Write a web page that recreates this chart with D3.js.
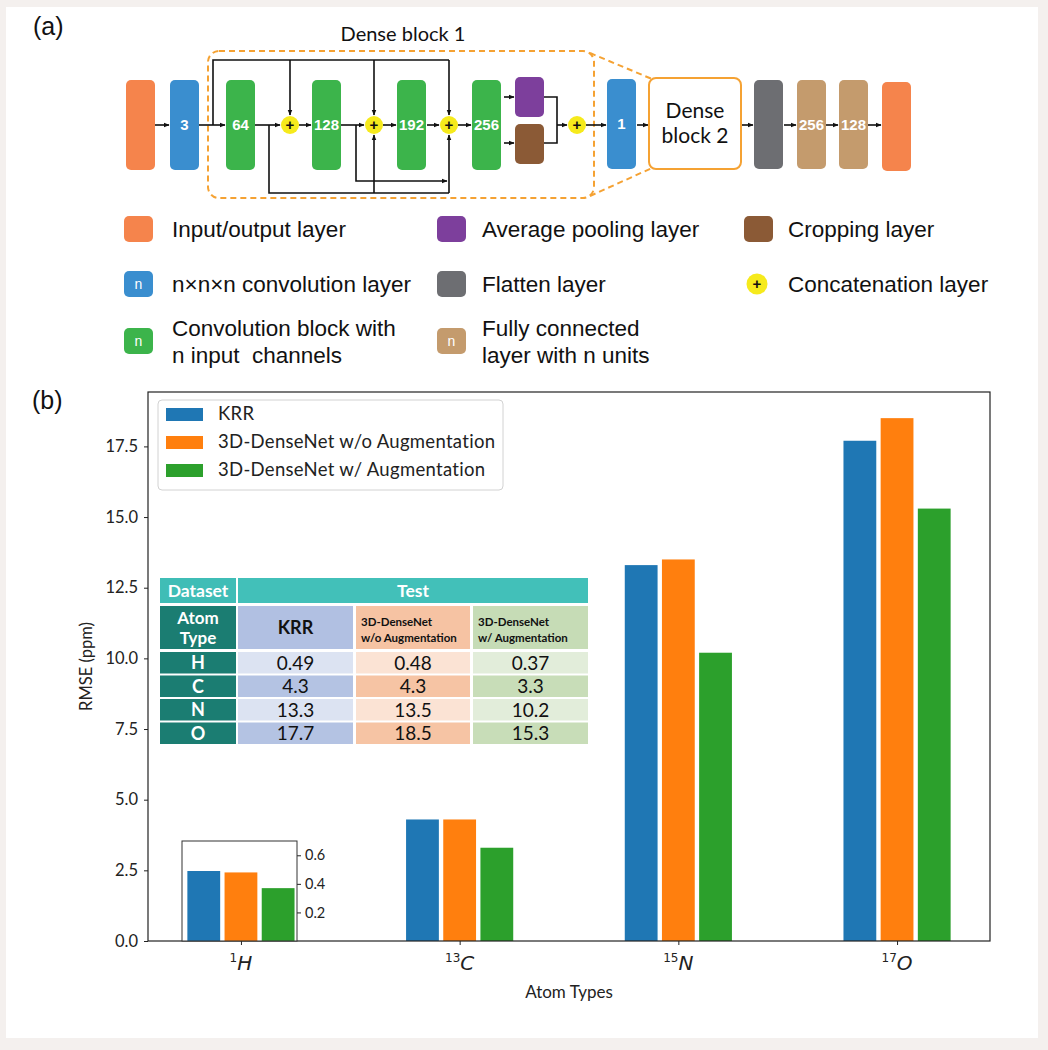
<!DOCTYPE html>
<html><head><meta charset="utf-8">
<script src="https://cdn.jsdelivr.net/npm/d3@7"></script>
<style>
body{margin:0;background:#f4f0ee;}
svg{display:block;}
.pre{white-space:pre;}
</style>
</head><body>
<svg id="c" width="1048" height="1050"></svg>
<script>
// ---------- chart data (b) ----------
const categories = ["H", "C", "N", "O"];
const massNumbers = ["1", "13", "15", "17"];
const seriesNames = ["KRR", "3D-DenseNet w/o Augmentation", "3D-DenseNet w/ Augmentation"];
const krr = [0.49, 4.3, 13.3, 17.7];
const denseNoAug = [0.48, 4.3, 13.5, 18.5];
const denseAug = [0.37, 3.3, 10.2, 15.3];
const yTicks = [0, 2.5, 5, 7.5, 10, 12.5, 15, 17.5];
const insetTicks = [0.2, 0.4, 0.6];
const tableHeaders = ["KRR", "3D-DenseNet\nw/o Augmentation", "3D-DenseNet\nw/ Augmentation"];
const seriesColors = ["#1f77b4", "#ff7f0e", "#2ca02c"];

// ---------- diagram (a) ----------
const layerColors = {io:"#f5844c", conv:"#3a8ecf", block:"#3cb44b", pool:"#7d3f9c", crop:"#8b5a36", flat:"#6d6e72", fc:"#c49b6d", concat:"#f6ea1c"};
const layers = [
  {type:"io", x:126, y:80, h:90, label:""},
  {type:"conv", x:170, y:80, h:90, label:"3"},
  {type:"block", x:226, y:80, h:90, label:"64"},
  {type:"block", x:312, y:80, h:90, label:"128"},
  {type:"block", x:397, y:80, h:90, label:"192"},
  {type:"block", x:472, y:80, h:90, label:"256"},
  {type:"pool", x:515, y:77, h:40, label:""},
  {type:"crop", x:515, y:124, h:40, label:""},
  {type:"conv", x:607, y:79, h:90, label:"1"},
  {type:"flat", x:754, y:80, h:89, label:""},
  {type:"fc", x:797, y:80, h:89, label:"256"},
  {type:"fc", x:839, y:80, h:89, label:"128"},
  {type:"io", x:882, y:82, h:89, label:""}
];
const concats = [290, 374, 449, 577];
const arrows = [
  [155,125,169,125],[199,125,225,125],[255,125,280,125],[299,125,311,125],
  [341,125,364,125],[383,125,396,125],[427,125,439,125],[458,125,471,125],
  [504,97,514,97],[504,143,514,143],[557,125,567,125],[586,125,606,125],
  [637,125,648,125],[742,125,753,125],[784,125,796,125],[826,125,838,125],[868,125,881,125],
  [290,60,290,115],[374,60,374,115],[449,60,449,115],
  [374,193,374,135],[449,193,449,135]
];
const polylines = [
  {pts:[[213,125],[213,60],[449,60]], arrow:false},
  {pts:[[269,125],[269,193],[449,193]], arrow:false},
  {pts:[[356,125],[356,181],[447,181]], arrow:true},
  {pts:[[544,97],[557,97],[557,143],[544,143]], arrow:false}
];
const legendItems = [
  {type:"io", col:0, row:0, text:["Input/output layer"], n:false},
  {type:"pool", col:1, row:0, text:["Average pooling layer"], n:false},
  {type:"crop", col:2, row:0, text:["Cropping layer"], n:false},
  {type:"conv", col:0, row:1, text:["n×n×n convolution layer"], n:true},
  {type:"flat", col:1, row:1, text:["Flatten layer"], n:false},
  {type:"concat", col:2, row:1, text:["Concatenation layer"], n:false},
  {type:"block", col:0, row:2, text:["Convolution block with","n input  channels"], n:true},
  {type:"fc", col:1, row:2, text:["Fully connected","layer with n units"], n:true}
];

const svg = d3.select("#c");
svg.append("rect").attr("x",6).attr("y",7).attr("width",1032).attr("height",1031).attr("fill","#ffffff");

const defs = svg.append("defs");
defs.append("marker").attr("id","ah").attr("viewBox","0 0 10 10").attr("refX",9).attr("refY",5)
  .attr("markerWidth",6).attr("markerHeight",6).attr("orient","auto-start-reverse").attr("markerUnits","userSpaceOnUse")
  .append("path").attr("d","M0,1 L10,5 L0,9 z").attr("fill","#111");

const A = svg.append("g");
A.append("text").attr("x",33).attr("y",35).attr("font-family","Liberation Sans, Arial").attr("font-size",25).attr("fill","#111").text("(a)");
A.append("text").attr("x",403).attr("y",41).attr("text-anchor","middle").attr("font-family","Lato").attr("font-size",20).attr("fill","#111").text("Dense block 1");

// dashed dense block outline and trapezoid
const dash = A.append("g").attr("fill","none").attr("stroke","#f5a233").attr("stroke-width",2).attr("stroke-dasharray","6,4");
dash.append("rect").attr("x",208).attr("y",51).attr("width",386).attr("height",147).attr("rx",11);
dash.append("line").attr("x1",590).attr("y1",53).attr("x2",652).attr("y2",79);
dash.append("line").attr("x1",590).attr("y1",196).attr("x2",652).attr("y2",168);

// lines
const L = A.append("g").attr("stroke","#111").attr("stroke-width",1.6).attr("fill","none");
polylines.forEach(p=>{
  const pth = L.append("path").attr("d", d3.line()(p.pts));
  if(p.arrow) pth.attr("marker-end","url(#ah)");
});
arrows.forEach(a=>{
  L.append("line").attr("x1",a[0]).attr("y1",a[1]).attr("x2",a[2]).attr("y2",a[3]).attr("marker-end","url(#ah)");
});

// layer boxes
const lg = A.selectAll("g.layer").data(layers).join("g").attr("class","layer");
lg.append("rect").attr("x",d=>d.x).attr("y",d=>d.y).attr("width",29).attr("height",d=>d.h).attr("rx",5)
  .attr("fill",d=>layerColors[d.type]);
lg.append("text").attr("x",d=>d.x+14.5).attr("y",d=>d.y+d.h/2+5).attr("text-anchor","middle")
  .attr("font-family","Liberation Sans Narrow, Liberation Sans, Arial").attr("font-weight","bold").attr("font-size",15)
  .attr("fill","#fff").text(d=>d.label);

// dense block 2
A.append("rect").attr("x",649).attr("y",78).attr("width",92).attr("height",91).attr("rx",7)
  .attr("fill","#fff").attr("stroke","#f5a233").attr("stroke-width",2);
A.append("text").attr("x",695).attr("y",118).attr("text-anchor","middle").attr("font-family","Lato").attr("font-size",21).attr("fill","#111").text("Dense");
A.append("text").attr("x",695).attr("y",143).attr("text-anchor","middle").attr("font-family","Lato").attr("font-size",21).attr("fill","#111").text("block 2");

// concatenation circles
const cg = A.selectAll("g.cc").data(concats).join("g").attr("class","cc");
cg.append("circle").attr("cx",d=>d).attr("cy",125).attr("r",9).attr("fill",layerColors.concat);
cg.append("text").attr("x",d=>d).attr("y",130).attr("text-anchor","middle").attr("font-family","Liberation Sans").attr("font-weight","bold").attr("font-size",15).attr("fill","#111").text("+");

// legend (a)
const colSw = [124, 437, 744], colTx = [172, 482, 788], rowY = [229, 284, 341];
const li = A.selectAll("g.li").data(legendItems).join("g").attr("class","li");
li.each(function(d){
  const g = d3.select(this);
  const cy = rowY[d.row];
  if(d.type==="concat"){
    g.append("circle").attr("cx",colSw[d.col]+13).attr("cy",cy).attr("r",10.5).attr("fill",layerColors.concat);
    g.append("text").attr("x",colSw[d.col]+13).attr("y",cy+5).attr("text-anchor","middle").attr("font-family","Liberation Sans").attr("font-weight","bold").attr("font-size",15).attr("fill","#111").text("+");
  } else {
    g.append("rect").attr("x",colSw[d.col]).attr("y",cy-13).attr("width",29).attr("height",26).attr("rx",5).attr("fill",layerColors[d.type]);
    if(d.n) g.append("text").attr("x",colSw[d.col]+14.5).attr("y",cy+5).attr("text-anchor","middle").attr("font-family","Liberation Sans").attr("font-size",14).attr("fill","#fff").text("n");
  }
  const n = d.text.length;
  d.text.forEach((t,i)=>{
    g.append("text").attr("class","pre").attr("x",colTx[d.col]).attr("y",cy + (i-(n-1)/2)*27 + 8)
      .attr("font-family","Liberation Sans, Arial").attr("font-size",22.5).attr("fill","#111").text(t);
  });
});

// ---------- (b) ----------
const B = svg.append("g");
B.append("text").attr("x",32).attr("y",409).attr("font-family","Liberation Sans, Arial").attr("font-size",25).attr("fill","#111").text("(b)");

const series = [krr, denseNoAug, denseAug];
const ymax = d3.max(series.flat()) * 1.05;
const y = d3.scaleLinear().domain([0, ymax]).range([941, 392]);
const x = d3.scaleLinear().domain([-0.425, categories.length - 1 + 0.425]).range([148, 990]);
const barW = 0.15, step = 0.17;

const plot = B.append("g");
plot.append("rect").attr("x",x.range()[0]).attr("y",y.range()[1]).attr("width",x.range()[1]-x.range()[0]).attr("height",y.range()[0]-y.range()[1]).attr("fill","#fff");

series.forEach((vals,si)=>{
  plot.selectAll(null).data(vals).join("rect")
    .attr("x",(v,i)=>x(i + (si-1)*step - barW/2))
    .attr("width",x(barW)-x(0))
    .attr("y",v=>y(v)).attr("height",v=>y(0)-y(v))
    .attr("fill",seriesColors[si]);
});

// axes
const yAxis = d3.axisLeft(y).tickValues(yTicks).tickFormat(d3.format(".1f")).tickSize(4).tickPadding(6);
const ya = plot.append("g").attr("transform",`translate(${x.range()[0]},0)`).call(yAxis);
const xAxis = d3.axisBottom(x).tickValues(d3.range(categories.length)).tickFormat("").tickSize(4);
const xa = plot.append("g").attr("transform",`translate(0,${y(0)})`).call(xAxis);
[ya,xa].forEach(a=>{a.select(".domain").remove(); a.selectAll("line").attr("stroke","#222"); a.selectAll("text").attr("font-family","Lato").attr("font-size",16.5).attr("fill","#222");});
// frame
plot.append("rect").attr("x",x.range()[0]).attr("y",y.range()[1]).attr("width",x.range()[1]-x.range()[0]).attr("height",y.range()[0]-y.range()[1])
  .attr("fill","none").attr("stroke","#222").attr("stroke-width",1.2);

// x tick labels
categories.forEach((c,i)=>{
  const t = plot.append("text").attr("x",x(i)).attr("y",970).attr("text-anchor","middle").attr("font-family","DejaVu Sans").attr("fill","#222");
  t.append("tspan").attr("font-size",12).attr("dy",-8).text(massNumbers[i]);
  t.append("tspan").attr("font-size",20).attr("font-style","italic").attr("dy",8).text(c);
});
plot.append("text").attr("x",(x.range()[0]+x.range()[1])/2).attr("y",998).attr("text-anchor","middle").attr("font-family","Lato").attr("font-size",17).attr("fill","#222").text("Atom Types");
plot.append("text").attr("transform",`translate(92,${(y.range()[0]+y.range()[1])/2}) rotate(-90)`).attr("text-anchor","middle").attr("font-family","Lato").attr("font-size",16.5).attr("fill","#222").text("RMSE (ppm)");

// legend (b)
const lgB = plot.append("g");
lgB.append("rect").attr("x",158).attr("y",400).attr("width",345).attr("height",90).attr("rx",4).attr("fill","#fff").attr("fill-opacity",0.9).attr("stroke","#d2d2d2");
seriesNames.forEach((s,i)=>{
  lgB.append("rect").attr("x",166).attr("y",408+i*28).attr("width",37).attr("height",13).attr("fill",seriesColors[i]);
  lgB.append("text").attr("x",218).attr("y",420+i*28).attr("font-family","Lato").attr("font-size",18.5).attr("letter-spacing",0.3).attr("fill","#222").text(s);
});

// inset for H
const iy = d3.scaleLinear().domain([0,0.7]).range([941,841]);
const ix0 = 182, ix1 = 297;
const inset = plot.append("g");
inset.append("rect").attr("x",ix0).attr("y",iy(0.7)).attr("width",ix1-ix0).attr("height",iy(0)-iy(0.7)).attr("fill","#fff");
series.forEach((vals,si)=>{
  inset.append("rect").attr("x",x(0 + (si-1)*step - barW/2)).attr("width",x(barW)-x(0))
    .attr("y",iy(vals[0])).attr("height",iy(0)-iy(vals[0])).attr("fill",seriesColors[si]);
});
const ia = inset.append("g").attr("transform",`translate(${ix1},0)`).call(d3.axisRight(iy).tickValues(insetTicks).tickFormat(d3.format(".1f")).tickSize(4).tickPadding(4));
ia.select(".domain").remove(); ia.selectAll("line").attr("stroke","#222"); ia.selectAll("text").attr("font-family","Lato").attr("font-size",14.5).attr("fill","#222");
inset.append("rect").attr("x",ix0).attr("y",iy(0.7)).attr("width",ix1-ix0).attr("height",iy(0)-iy(0.7)).attr("fill","none").attr("stroke","#333").attr("stroke-width",1);

// table
const T = plot.append("g");
const tX = [160, 238, 356, 473], tW = [76, 115, 114, 115];
const teal = "#1b7d72";
T.append("rect").attr("x",153).attr("y",571).attr("width",442).attr("height",181).attr("fill","#fff");
T.append("rect").attr("x",tX[0]).attr("y",578).attr("width",tW[0]).attr("height",25).attr("fill","#3fbdb6");
T.append("rect").attr("x",tX[1]).attr("y",578).attr("width",588-tX[1]).attr("height",25).attr("fill","#42c0b9");
T.append("text").attr("x",tX[0]+tW[0]/2).attr("y",597).attr("text-anchor","middle").attr("font-family","Lato").attr("font-weight","bold").attr("font-size",17.5).attr("fill","#fff").text("Dataset");
T.append("text").attr("x",(tX[1]+588)/2).attr("y",597).attr("text-anchor","middle").attr("font-family","Lato").attr("font-weight","bold").attr("font-size",17.5).attr("fill","#fff").text("Test");
const headFill = ["#b1c0e2","#f6c3a3","#c6dcb6"];
const darkFill = ["#b4c3e3","#f6c4a4","#c8ddb8"];
const lightFill = ["#dce3f2","#fbe3d4","#e2edda"];
T.append("rect").attr("x",tX[0]).attr("y",606).attr("width",tW[0]).attr("height",43).attr("fill",teal);
T.append("text").attr("x",tX[0]+tW[0]/2).attr("y",624).attr("text-anchor","middle").attr("font-family","Lato").attr("font-weight","bold").attr("font-size",17).attr("fill","#fff").text("Atom");
T.append("text").attr("x",tX[0]+tW[0]/2).attr("y",644).attr("text-anchor","middle").attr("font-family","Lato").attr("font-weight","bold").attr("font-size",17).attr("fill","#fff").text("Type");
tableHeaders.forEach((h,j)=>{
  T.append("rect").attr("x",tX[j+1]).attr("y",606).attr("width",tW[j+1]).attr("height",43).attr("fill",headFill[j]);
  const lines = h.split("\n");
  if(lines.length===1){
    T.append("text").attr("x",tX[j+1]+tW[j+1]/2).attr("y",634).attr("text-anchor","middle").attr("font-family","Lato").attr("font-weight","bold").attr("font-size",18).attr("fill","#111").text(lines[0]);
  } else {
    lines.forEach((ln,k)=>T.append("text").attr("x",tX[j+1]+5).attr("y",626+k*16).attr("font-family","Lato").attr("font-weight","bold").attr("font-size",11.5).attr("fill","#111").text(ln));
  }
});
categories.forEach((c,i)=>{
  const ty = 652 + i*23.5, th = 21.5;
  T.append("rect").attr("x",tX[0]).attr("y",ty).attr("width",tW[0]).attr("height",th).attr("fill",teal);
  T.append("text").attr("x",tX[0]+tW[0]/2).attr("y",ty+17).attr("text-anchor","middle").attr("font-family","Lato").attr("font-weight","bold").attr("font-size",18).attr("fill","#fff").text(c);
  series.forEach((vals,j)=>{
    T.append("rect").attr("x",tX[j+1]).attr("y",ty).attr("width",tW[j+1]).attr("height",th).attr("fill",(i%2? darkFill:lightFill)[j]);
    T.append("text").attr("x",tX[j+1]+tW[j+1]/2).attr("y",ty+17.5).attr("text-anchor","middle").attr("font-family","Lato").attr("font-size",19).attr("fill","#111").text(String(vals[i]));
  });
});
</script>
</body></html>
